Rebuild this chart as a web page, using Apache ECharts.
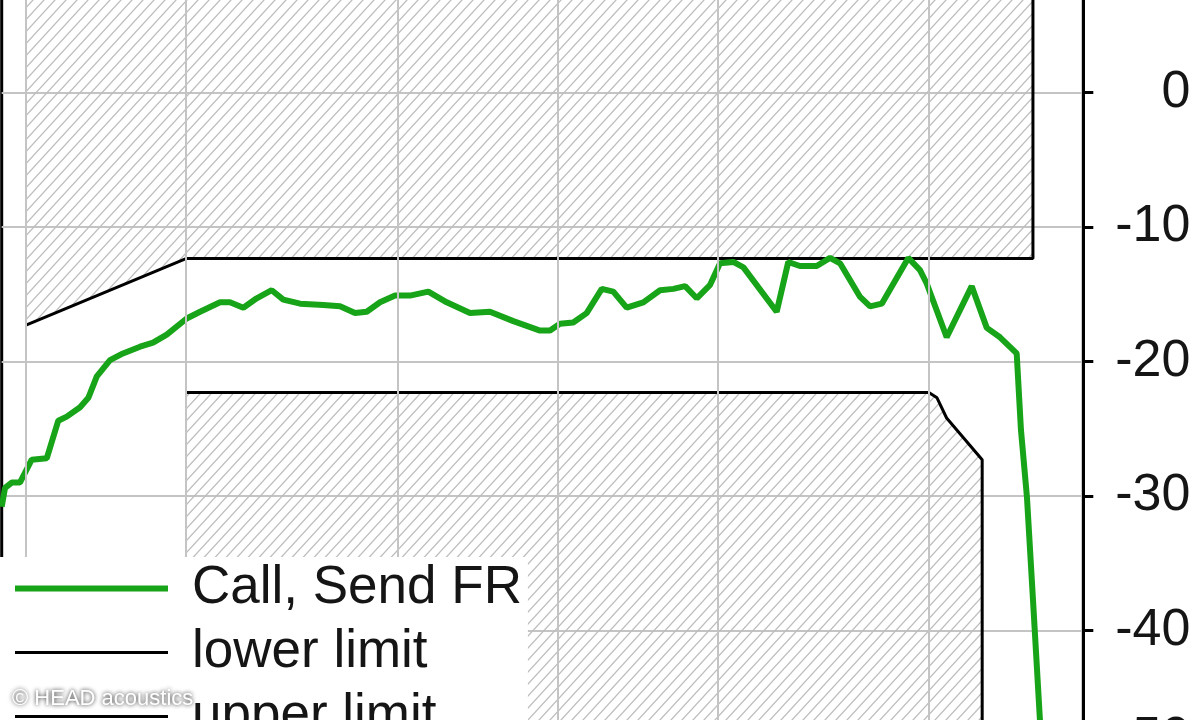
<!DOCTYPE html>
<html><head><meta charset="utf-8">
<script src="https://cdn.jsdelivr.net/npm/echarts@6/dist/echarts.min.js"></script>
<style>html,body{margin:0;padding:0;background:#fff}#chart{width:1200px;height:720px}</style>
</head><body><div id="chart"></div>
<script>
// ---- data ----
const freqHz = [90, 91.3, 94, 97.4, 102.5, 109.4, 115, 119.3, 126.4, 131, 135.9, 143.9, 152.2, 163.9, 173.4, 184, 200.6, 212.6, 231.8, 242, 256.4, 271.7, 290, 304.9, 328, 362.7, 389.9, 416, 437.7, 463.6, 494.8, 528, 571.5, 619, 684.7, 746.6, 826.2, 927.5, 968.5, 1011, 1071, 1135, 1212, 1274, 1350, 1451, 1560, 1653, 1739, 1829, 1938, 2023, 2143, 2239, 2586, 2719, 2860, 3076, 3258, 3403, 3712, 3876, 4078, 4574, 4812, 4954, 5402, 6021, 6427, 6806, 7316, 7453, 7649, 7851, 8093, 8270];
const callSendFR = [-30.8, -29.4, -29.0, -29.0, -27.3, -27.2, -24.4, -24.1, -23.4, -22.7, -21.1, -19.9, -19.4, -18.9, -18.6, -18.0, -16.8, -16.3, -15.6, -15.6, -16.0, -15.3, -14.7, -15.4, -15.7, -15.8, -15.9, -16.4, -16.3, -15.6, -15.1, -15.1, -14.8, -15.6, -16.4, -16.3, -17.0, -17.7, -17.7, -17.2, -17.1, -16.4, -14.6, -14.8, -16.0, -15.6, -14.7, -14.6, -14.4, -15.3, -14.3, -12.7, -12.6, -13.0, -16.3, -12.6, -12.9, -12.9, -12.3, -12.7, -15.2, -15.9, -15.7, -12.3, -13.2, -14.2, -18.2, -14.4, -17.5, -18.2, -19.4, -25.1, -30.1, -37.7, -46.7, -52.6];
const upperLimitHz = [100, 200, 7850, 7850];
const upperLimitDb = [-17.3, -12.35, -12.35, 10];
const lowerLimitHz = [200, 5000, 5180, 5400, 6300, 6300];
const lowerLimitDb = [-22.3, -22.3, -22.7, -24.2, -27.3, -50];
const gridFreqs = [100, 200, 500, 1000, 2000, 5000];
const seriesNames = ['Call, Send FR', 'lower limit', 'upper limit'];
const yMin = -50, yMax = 10, yStep = 10;
const fMin = 90, fMax = 9764;

// ---- hatch pattern ----
const hatch = (function () {
  const w = 11, h = 12;
  const c = document.createElement('canvas');
  c.width = w; c.height = h;
  const g = c.getContext('2d');
  g.strokeStyle = '#bdbdbd';
  g.lineWidth = 1.2;
  [-w, 0, w].forEach(function (dx) {
    g.beginPath();
    g.moveTo(dx - 2, h + 2 * h / w);
    g.lineTo(dx + w + 2, -2 * h / w);
    g.stroke();
  });
  return c;
})();

const zip = (xs, ys) => xs.map((x, i) => [x, ys[i]]);
const font = '"Liberation Sans", Arial, sans-serif';

const chart = echarts.init(document.getElementById('chart'), null, { renderer: 'canvas' });
chart.setOption({
  backgroundColor: '#fff',
  animation: false,
  grid: { left: 1.7, right: 116.7, top: -42, bottom: -45, show: true, borderColor: '#000', borderWidth: 3,
    backgroundColor: 'transparent', containLabel: false, outerBoundsMode: 'none' },
  xAxis: {
    type: 'log', logBase: 10, min: fMin, max: fMax,
    axisLine: { show: false }, axisTick: { show: false }, axisLabel: { show: false }, splitLine: { show: false }
  },
  yAxis: {
    type: 'value', position: 'right', min: yMin, max: yMax, interval: yStep,
    axisLine: { show: true, lineStyle: { color: '#000', width: 3 } },
    axisTick: { show: true, length: 10, lineStyle: { color: '#000', width: 3 } },
    axisLabel: { color: '#151515', fontSize: 52, fontFamily: font, align: 'right', margin: 107,
      showMaxLabel: true, showMinLabel: true, hideOverlap: false,
      verticalAlignMaxLabel: 'top', verticalAlignMinLabel: 'bottom' },
    splitLine: { show: true, lineStyle: { color: '#c4c4c4', width: 2 } }
  },
  legend: {
    left: 0, top: 557, height: 300, orient: 'vertical', backgroundColor: '#fff',
    padding: [5, 6, 5, 12], itemGap: 11, itemWidth: 153, itemHeight: 14,
    data: seriesNames, selectedMode: false, z: 10,
    lineStyle: { width: 'inherit' },
    itemStyle: { color: 'transparent', borderColor: 'transparent', borderWidth: 0 },
    textStyle: { fontSize: 53, lineHeight: 52, color: '#151515', fontFamily: font, padding: [0, 0, 0, 19] }
  },
  graphic: [{
    type: 'text', left: 12, top: 688, z: 100,
    style: { text: '© HEAD acoustics', fontSize: 22, fontFamily: font, fill: '#fff',
      textShadowColor: 'rgba(0,0,0,0.9)', textShadowBlur: 4 }
  }],
  series: [
    {
      type: 'line', name: '_grid', data: [], silent: true, z: 1,
      markLine: { silent: true, symbol: ['none', 'none'], label: { show: false },
        lineStyle: { color: '#c4c4c4', width: 2, type: 'solid' },
        data: gridFreqs.map(f => ({ xAxis: f })) }
    },
    {
      type: 'line', name: seriesNames[2], data: zip(upperLimitHz, upperLimitDb), z: 2,
      symbol: 'none', lineStyle: { color: '#000', width: 3 }, itemStyle: { color: '#000' },
      areaStyle: { origin: 'end', color: { image: hatch, repeat: 'repeat' }, opacity: 1 }
    },
    {
      type: 'line', name: seriesNames[1], data: zip(lowerLimitHz, lowerLimitDb), z: 2,
      symbol: 'none', lineStyle: { color: '#000', width: 3 }, itemStyle: { color: '#000' },
      areaStyle: { origin: 'start', color: { image: hatch, repeat: 'repeat' }, opacity: 1 }
    },
    {
      type: 'line', name: seriesNames[0], data: zip(freqHz, callSendFR), z: 3,
      symbol: 'none', lineStyle: { color: '#18a418', width: 6 }, itemStyle: { color: '#18a418' }
    }
  ]
});
</script></body></html>
